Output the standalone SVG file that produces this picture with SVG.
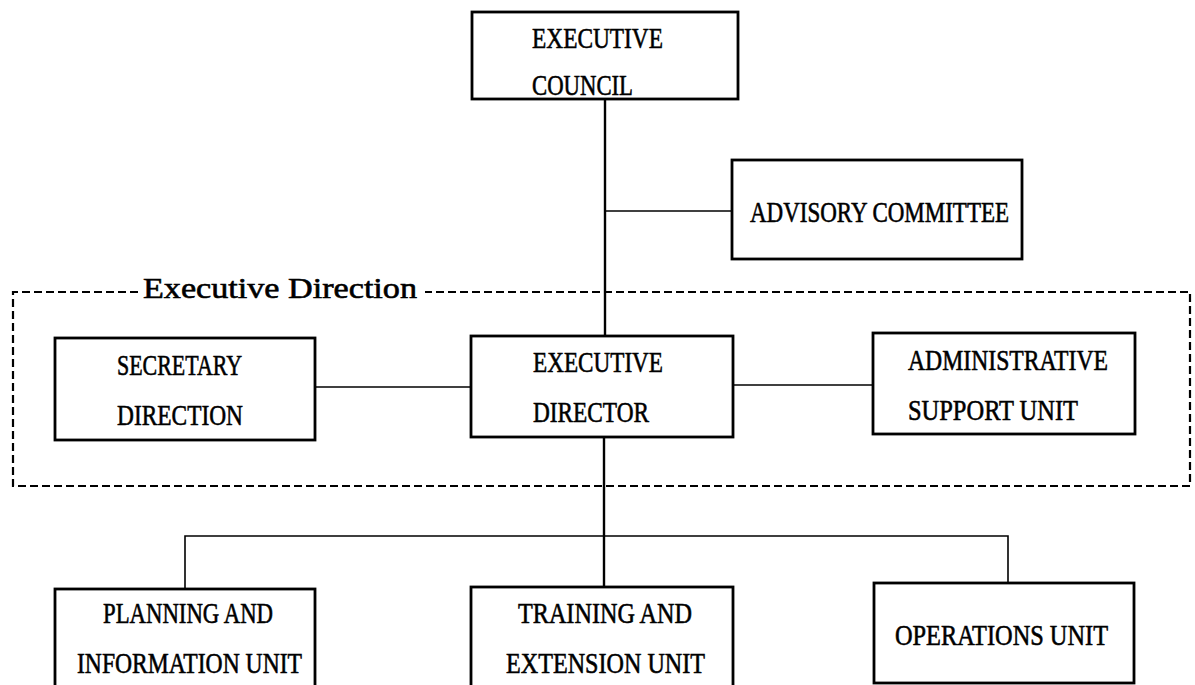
<svg xmlns="http://www.w3.org/2000/svg" width="1195" height="685" viewBox="0 0 1195 685">
<style>
.box{fill:#fff;stroke:#000;stroke-width:2.8}
.t{font-family:"Liberation Serif","Times New Roman",serif;font-size:30px;fill:#000;stroke:#000;stroke-width:0.6}
.c{fill:none;stroke:#000;stroke-width:1.6}
.v{fill:none;stroke:#000;stroke-width:2.4}
.d{fill:none;stroke:#000;stroke-width:2.2;stroke-dasharray:8 4}
</style>
<rect width="1195" height="685" fill="#fff"/>
<g id="group-executive-direction">
<path class="d" d="M138,292 H13 V486 H1190 V292 H425"/>
<text class="t" x="143" y="298" textLength="274" lengthAdjust="spacingAndGlyphs">Executive Direction</text>
</g>
<g id="connectors">
<path class="v" d="M605,99 V336"/>
<path class="c" d="M605,211 H732"/>
<path class="c" d="M315,387 H471"/>
<path class="c" d="M733,385 H873"/>
<path class="v" d="M604,437 V587"/>
<path class="c" d="M185,589 V536 H1008 V583"/>
</g>
<g id="executive-council">
<rect class="box" x="472" y="12" width="266" height="87"/>
<text class="t" x="532" y="48" textLength="131" lengthAdjust="spacingAndGlyphs">EXECUTIVE</text>
<text class="t" x="532" y="95" textLength="101" lengthAdjust="spacingAndGlyphs">COUNCIL</text>
</g>
<g id="advisory-committee">
<rect class="box" x="732" y="160" width="290" height="99"/>
<text class="t" x="750" y="222" textLength="259" lengthAdjust="spacingAndGlyphs">ADVISORY COMMITTEE</text>
</g>
<g id="secretary-direction">
<rect class="box" x="55" y="338" width="260" height="102"/>
<text class="t" x="117" y="375" textLength="125" lengthAdjust="spacingAndGlyphs">SECRETARY</text>
<text class="t" x="117" y="425" textLength="126" lengthAdjust="spacingAndGlyphs">DIRECTION</text>
</g>
<g id="executive-director">
<rect class="box" x="471" y="336" width="262" height="101"/>
<text class="t" x="533" y="372" textLength="130" lengthAdjust="spacingAndGlyphs">EXECUTIVE</text>
<text class="t" x="533" y="422" textLength="116" lengthAdjust="spacingAndGlyphs">DIRECTOR</text>
</g>
<g id="administrative-support-unit">
<rect class="box" x="873" y="333" width="262" height="101"/>
<text class="t" x="908" y="370" textLength="200" lengthAdjust="spacingAndGlyphs">ADMINISTRATIVE</text>
<text class="t" x="908" y="420" textLength="170" lengthAdjust="spacingAndGlyphs">SUPPORT UNIT</text>
</g>
<g id="planning-and-information-unit">
<rect class="box" x="55" y="589" width="260" height="110"/>
<text class="t" x="103" y="623" textLength="170" lengthAdjust="spacingAndGlyphs">PLANNING AND</text>
<text class="t" x="77" y="673" textLength="225" lengthAdjust="spacingAndGlyphs">INFORMATION UNIT</text>
</g>
<g id="training-and-extension-unit">
<rect class="box" x="471" y="587" width="262" height="112"/>
<text class="t" x="518" y="623" textLength="174" lengthAdjust="spacingAndGlyphs">TRAINING AND</text>
<text class="t" x="506" y="673" textLength="199" lengthAdjust="spacingAndGlyphs">EXTENSION UNIT</text>
</g>
<g id="operations-unit">
<rect class="box" x="874" y="583" width="260" height="100"/>
<text class="t" x="895" y="645" textLength="213" lengthAdjust="spacingAndGlyphs">OPERATIONS UNIT</text>
</g>
</svg>
